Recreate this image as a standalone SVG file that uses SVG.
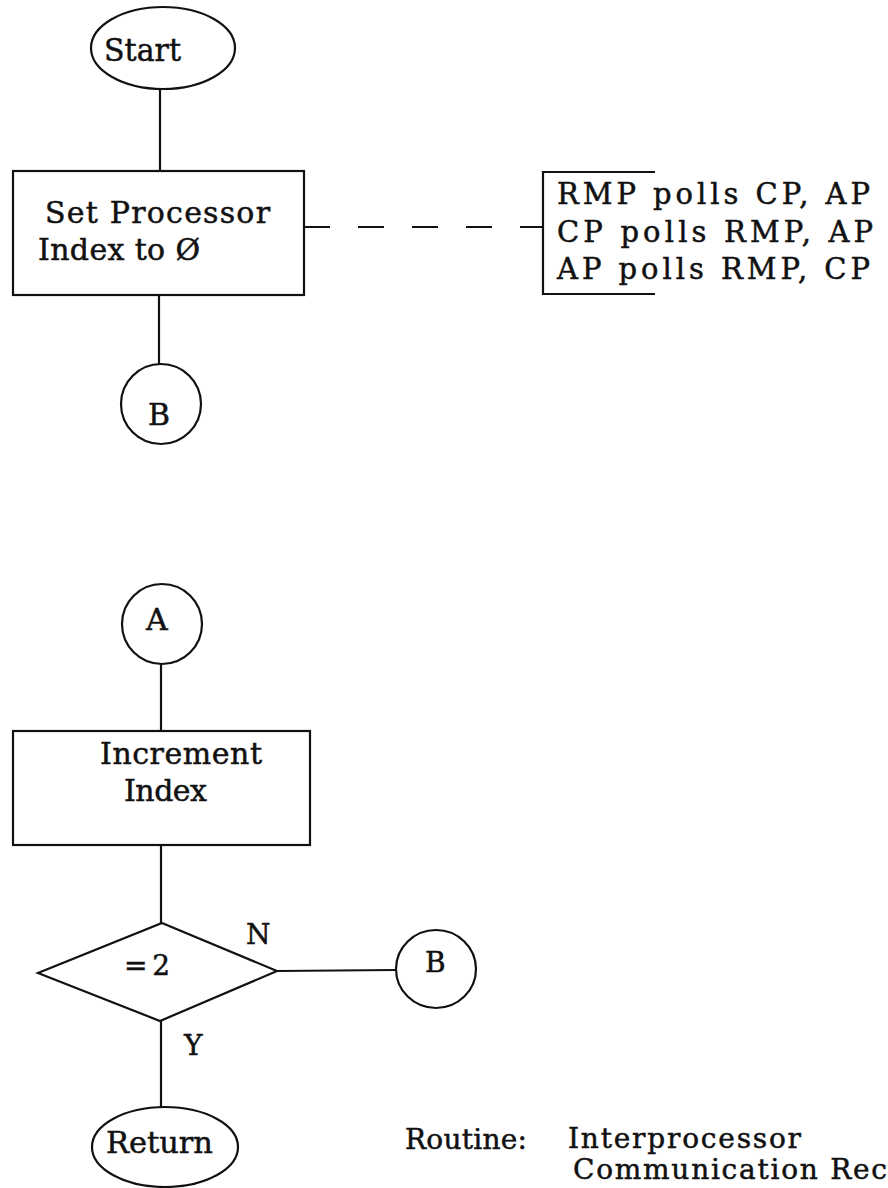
<svg xmlns="http://www.w3.org/2000/svg" width="888" height="1188" viewBox="0 0 888 1188">
<style>
.shape{fill:none;stroke:#111;stroke-width:2.2}
.conn{fill:none;stroke:#111;stroke-width:2.2}
.dash{stroke-dasharray:26 28}
text{font-family:"DejaVu Serif","Liberation Serif",serif;fill:#111;stroke:#111;stroke-width:0.5}
.t30{font-size:30px}
.t29{font-size:29px}
.t28{font-size:28px}
</style>
<rect width="888" height="1188" fill="#fff"/>
<g id="connectors">
<line class="conn" x1="160" y1="89" x2="160" y2="171"/>
<line class="conn" x1="159" y1="295" x2="159" y2="364"/>
<line class="conn dash" x1="304" y1="227" x2="543" y2="227"/>
<line class="conn" x1="161" y1="664" x2="161" y2="731"/>
<line class="conn" x1="161" y1="845" x2="161" y2="923"/>
<line class="conn" x1="277" y1="971" x2="396" y2="970"/>
<line class="conn" x1="161" y1="1021" x2="161" y2="1108"/>
</g>
<g id="start">
<ellipse class="shape" cx="163" cy="48" rx="72" ry="41"/>
<text x="104" y="61" style="font-size:32px" textLength="77" lengthAdjust="spacingAndGlyphs">Start</text>
</g>
<g id="set-index">
<rect class="shape" x="13" y="171" width="291" height="124"/>
<text class="t30" x="45" y="223" textLength="225" lengthAdjust="spacing">Set Processor</text>
<text class="t30" x="38" y="260" textLength="162" lengthAdjust="spacing">Index to Ø</text>
</g>
<g id="poll-note">
<path class="shape" d="M655,172 H543 V294 H655"/>
<text class="t29" x="557" y="204" textLength="313" lengthAdjust="spacing">RMP polls  CP, AP</text>
<text class="t29" x="557" y="242" textLength="316" lengthAdjust="spacing">CP polls RMP, AP</text>
<text class="t29" x="557" y="279" textLength="313" lengthAdjust="spacing">AP polls  RMP, CP</text>
</g>
<g id="connector-b1">
<circle class="shape" cx="161" cy="404" r="40"/>
<text class="t30" x="148" y="425">B</text>
</g>
<g id="connector-a">
<circle class="shape" cx="162" cy="624" r="40"/>
<text class="t30" x="146" y="630">A</text>
</g>
<g id="increment">
<rect class="shape" x="13" y="731" width="297" height="114"/>
<text class="t30" x="100" y="764" textLength="162" lengthAdjust="spacing">Increment</text>
<text class="t30" x="124" y="801" textLength="83" lengthAdjust="spacing">Index</text>
</g>
<g id="decision">
<polygon class="shape" points="162,923 277,971 160,1021 38,973"/>
<text class="t28" x="124" y="975" textLength="46" lengthAdjust="spacing">= 2</text>
<text class="t28" x="246" y="944">N</text>
<text class="t28" x="184" y="1055">Y</text>
</g>
<g id="connector-b2">
<ellipse class="shape" cx="436" cy="969" rx="40" ry="39"/>
<text class="t28" x="425" y="972">B</text>
</g>
<g id="return">
<ellipse class="shape" cx="165" cy="1147" rx="73" ry="40"/>
<text class="t30" x="106" y="1153" textLength="107" lengthAdjust="spacingAndGlyphs">Return</text>
</g>
<g id="caption">
<text class="t28" x="405" y="1149" textLength="122" lengthAdjust="spacing">Routine:</text>
<text class="t28" x="568" y="1148" textLength="233" lengthAdjust="spacing">Interprocessor</text>
<text class="t28" x="573" y="1179" textLength="314" lengthAdjust="spacing">Communication Rec</text>
</g>
</svg>
